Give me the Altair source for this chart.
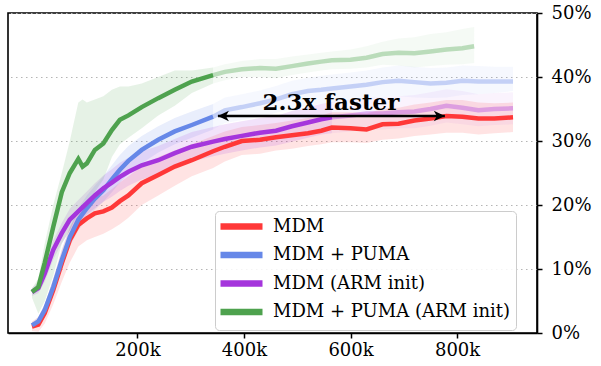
import altair as alt
import pandas as pd

# ---------------- data ----------------
STEPS_K = [2, 14, 26, 42, 58, 73, 89, 105, 120, 136,
           152, 167, 183, 208, 239, 270, 302, 342, 364, 396,
           430, 460, 490, 520, 545, 565, 600, 630, 660, 690,
           720, 750, 780, 810, 840, 870, 905]
GREEN_STEPS_K = [2, 14, 26, 42, 58, 73, 89, 97, 105, 120,
                 136, 152, 167, 183, 208, 239, 270, 302, 342, 364,
                 396, 430, 460, 490, 520, 545, 565, 600, 630, 660,
                 690, 720, 750, 780, 810, 832]

MDM = [1.0, 1.3, 3.1, 6.7, 10.9, 14.5, 16.9, 17.9, 18.7, 19.0,
       19.6, 20.6, 21.5, 23.4, 24.7, 26.0, 27.0, 28.4, 29.1, 30.0,
       30.2, 30.6, 30.9, 31.2, 31.6, 32.1, 32.0, 31.8, 32.6, 32.7,
       33.2, 33.5, 33.9, 33.8, 33.5, 33.5, 33.7]
MDM_LO = [0.3, 0.2, 1.5, 4.5, 8.0, 11.0, 13.5, 14.5, 15.0, 15.5,
          16.2, 17.0, 18.0, 20.0, 21.5, 23.0, 24.5, 25.8, 26.8, 27.8,
          28.0, 28.5, 28.8, 29.2, 29.5, 29.8, 29.8, 29.7, 30.2, 30.4,
          30.8, 31.0, 31.3, 31.3, 31.0, 31.2, 31.4]
MDM_HI = [1.8, 2.5, 4.5, 8.5, 13.0, 16.5, 19.0, 20.0, 21.0, 21.5,
          22.5, 23.5, 24.5, 26.0, 27.5, 28.5, 29.5, 30.8, 31.5, 32.2,
          32.5, 32.8, 33.2, 33.6, 34.0, 34.5, 34.5, 34.3, 35.0, 35.2,
          35.7, 36.0, 36.4, 36.4, 36.0, 35.9, 36.0]

PUMA = [1.2, 1.8, 3.6, 7.2, 11.4, 15.0, 17.7, 19.5, 21.0, 22.3,
        24.0, 25.5, 26.9, 28.6, 30.2, 31.5, 32.5, 33.8, 34.8, 35.3,
        35.9, 36.5, 37.3, 37.8, 38.0, 38.2, 38.5, 38.8, 39.2, 39.4,
        39.2, 39.0, 39.1, 39.4, 39.3, 39.3, 39.3]
PUMA_LO = [0.8, 1.2, 2.8, 6.0, 10.0, 13.5, 16.0, 17.8, 19.2, 20.5,
           22.0, 23.5, 24.8, 26.5, 28.2, 29.5, 30.5, 31.8, 32.8, 33.3,
           33.8, 34.4, 35.0, 35.5, 35.8, 36.0, 36.3, 36.5, 36.8, 37.0,
           36.8, 36.7, 36.8, 37.2, 37.3, 37.5, 37.8]
PUMA_HI = [1.6, 2.5, 4.5, 8.5, 13.0, 16.5, 19.5, 21.5, 23.0, 24.5,
           26.2, 27.8, 29.2, 30.8, 32.3, 33.6, 34.6, 35.8, 36.8, 37.3,
           37.9, 38.6, 39.4, 39.9, 40.2, 40.4, 40.7, 41.0, 41.5, 41.8,
           41.6, 41.4, 41.5, 41.8, 41.7, 41.6, 41.6]

ARM = [6.4, 7.0, 9.3, 13.0, 15.6, 17.7, 19.0, 20.3, 21.5, 22.6,
       23.5, 24.4, 25.2, 26.2, 27.0, 28.1, 29.1, 29.9, 30.3, 30.8,
       31.3, 31.6, 32.3, 32.9, 33.4, 33.7, 34.0, 34.3, 34.3, 34.5,
       34.6, 35.0, 35.5, 35.2, 34.8, 35.0, 35.1]
ARM_LO = [5.8, 6.2, 8.0, 11.5, 14.0, 16.0, 17.2, 18.5, 19.5, 20.5,
          21.3, 22.2, 23.0, 24.0, 24.8, 25.8, 26.8, 27.6, 28.0, 28.5,
          29.0, 29.3, 29.9, 30.5, 31.0, 31.2, 31.5, 31.8, 31.8, 32.0,
          32.0, 32.4, 32.9, 32.6, 32.3, 32.5, 32.6]
ARM_HI = [7.0, 8.0, 10.8, 14.5, 17.2, 19.4, 20.8, 22.1, 23.4, 24.6,
          25.6, 26.6, 27.4, 28.4, 29.2, 30.3, 31.4, 32.2, 32.6, 33.1,
          33.6, 33.9, 34.7, 35.3, 35.8, 36.1, 36.5, 36.8, 36.8, 37.0,
          37.2, 37.6, 38.1, 37.8, 37.3, 37.5, 37.6]

PUMA_ARM = [6.4, 7.2, 11.0, 16.6, 22.0, 25.0, 27.2, 26.0, 26.5, 28.6,
            29.6, 31.7, 33.3, 34.0, 35.3, 36.7, 38.0, 39.3, 40.3, 40.8,
            41.2, 41.4, 41.3, 41.7, 42.1, 42.4, 42.6, 42.7, 43.0, 43.6,
            43.8, 43.7, 44.0, 44.3, 44.5, 44.8]
PUMA_ARM_LO = [5.5, 3.0, 5.0, 9.0, 14.0, 16.0, 19.0, 20.0, 20.0, 22.0,
               24.0, 27.5, 29.5, 30.5, 32.0, 34.0, 35.5, 37.5, 39.0, 39.5,
               40.0, 40.0, 39.8, 40.3, 40.7, 41.0, 41.2, 41.3, 41.5, 41.9,
               41.8, 41.5, 41.7, 41.9, 42.0, 42.2]
PUMA_ARM_HI = [7.0, 8.5, 14.0, 20.0, 25.0, 30.0, 36.0, 36.5, 36.0, 36.5,
               37.0, 38.0, 38.5, 38.5, 39.0, 40.0, 41.0, 41.0, 41.5, 42.0,
               42.5, 42.8, 42.8, 43.2, 43.5, 43.8, 44.0, 44.3, 44.8, 45.5,
               46.0, 46.2, 46.7, 47.0, 47.5, 47.8]

SERIES = ["MDM", "MDM + PUMA", "MDM (ARM init)", "MDM + PUMA (ARM init)"]
COLORS = ["#ff3838", "#6688e8", "#a535dc", "#4ea24e"]
FADE_FROM_K = [None, 342, 565, 342]

X_TICKS_K = [200, 400, 600, 800]
Y_TICKS = [0, 10, 20, 30, 40, 50]

ARROW_K = [351, 777]
ARROW_Y = 33.9
LABEL = "2.3x faster"
LABEL_K = 563
LABEL_Y = 34.85

SERIF = "DejaVu Serif"

# ---------------- build table ----------------
rows = []
for name, steps, mean, lo, hi, fade in [
    (SERIES[0], STEPS_K, MDM, MDM_LO, MDM_HI, FADE_FROM_K[0]),
    (SERIES[1], STEPS_K, PUMA, PUMA_LO, PUMA_HI, FADE_FROM_K[1]),
    (SERIES[2], STEPS_K, ARM, ARM_LO, ARM_HI, FADE_FROM_K[2]),
    (SERIES[3], GREEN_STEPS_K, PUMA_ARM, PUMA_ARM_LO, PUMA_ARM_HI, FADE_FROM_K[3]),
]:
    for s, m, l, h in zip(steps, mean, lo, hi):
        if fade is None or s <= fade:
            rows.append(dict(series=name, step=s, value=m, lo=l, hi=h, seg="solid"))
        if fade is not None and s >= fade:
            rows.append(dict(series=name, step=s, value=m, lo=l, hi=h, seg="faded"))
df = pd.DataFrame(rows)

x_scale = alt.Scale(domain=[-43, 950], nice=False, zero=False)
y_scale = alt.Scale(domain=[0, 50], nice=False, zero=False)
color_scale = alt.Scale(domain=SERIES, range=COLORS)

x_axis = alt.Axis(values=X_TICKS_K, labelExpr="datum.value + 'k'", title=None,
                  grid=False, labelPadding=3, labelFont=SERIF, labelFontSize=18,
                  labelColor="black")
y_axis = alt.Axis(orient="right", values=Y_TICKS, labelExpr="datum.value + '%'",
                  title=None, grid=True, gridDash=[1.5, 3.5], gridColor="#b5b5b5",
                  gridWidth=1.2, labelPadding=9, labelFont=SERIF, labelFontSize=18,
                  labelColor="black")

legend = alt.Legend(
    title=None, orient="none", legendX=207, legendY=198,
    fillColor="rgba(255,255,255,0.85)", strokeColor="#cccccc", cornerRadius=4,
    padding=5, symbolType="M-3,0L3,0", symbolSize=196, symbolStrokeWidth=6.5,
    symbolOpacity=1, labelFont=SERIF, labelFontSize=18,
    labelColor="black", rowPadding=1.5, symbolOffset=11, labelOffset=21,
    labelLimit=400,
)

X = alt.X("step:Q", scale=x_scale, axis=x_axis, title=None)
COLOR = alt.Color("series:N", scale=color_scale, sort=SERIES, legend=legend, title=None)

base = alt.Chart(df)

band_solid = base.transform_filter(alt.datum.seg == "solid").mark_area(opacity=0.14).encode(
    x=X, y=alt.Y("lo:Q", scale=y_scale, axis=y_axis, title=None), y2="hi:Q",
    color=COLOR, detail="series:N",
)
band_faded = base.transform_filter(alt.datum.seg == "faded").mark_area(opacity=0.06).encode(
    x=X, y=alt.Y("lo:Q", scale=y_scale, axis=y_axis, title=None), y2="hi:Q",
    color=COLOR, detail="series:N",
)
line_faded = base.transform_filter(alt.datum.seg == "faded").mark_line(
    strokeWidth=4.5, opacity=0.35).encode(
    x=X, y=alt.Y("value:Q", scale=y_scale, axis=y_axis, title=None),
    color=COLOR, detail="series:N",
)
line_solid = base.transform_filter(alt.datum.seg == "solid").mark_line(
    strokeWidth=4.5).encode(
    x=X, y=alt.Y("value:Q", scale=y_scale, axis=y_axis, title=None),
    color=COLOR, detail="series:N",
)

arrow_df = pd.DataFrame({"x": [ARROW_K[0]], "x2": [ARROW_K[1]], "y": [ARROW_Y]})
arrow_line = alt.Chart(arrow_df).mark_rule(color="black", strokeWidth=2.6).encode(
    x=alt.X("x:Q", scale=x_scale, axis=x_axis, title=None), x2="x2:Q",
    y=alt.Y("y:Q", scale=y_scale, axis=y_axis, title=None),
)
heads_df = pd.DataFrame({"x": ARROW_K, "y": [ARROW_Y, ARROW_Y], "dir": ["left", "right"]})
LEFT_HEAD = "M0,0L2,-0.95L1.45,0L2,0.95Z"
RIGHT_HEAD = "M0,0L-2,-0.95L-1.45,0L-2,0.95Z"
arrow_heads = alt.Chart(heads_df).mark_point(filled=True, opacity=1, color="black",
                                              strokeWidth=0).encode(
    x=alt.X("x:Q", scale=x_scale, axis=x_axis, title=None),
    y=alt.Y("y:Q", scale=y_scale, axis=y_axis, title=None),
    shape=alt.Shape("dir:N", scale=alt.Scale(domain=["left", "right"],
                                             range=[LEFT_HEAD, RIGHT_HEAD]), legend=None),
    size=alt.value(121),
)
label_df = pd.DataFrame({"x": [LABEL_K], "y": [LABEL_Y], "t": [LABEL]})
label = alt.Chart(label_df).mark_text(font=SERIF, fontWeight="bold", fontSize=23,
                                       baseline="alphabetic", align="center",
                                       color="black").encode(
    x=alt.X("x:Q", scale=x_scale, axis=x_axis, title=None),
    y=alt.Y("y:Q", scale=y_scale, axis=y_axis, title=None),
    text="t:N",
)

chart = alt.layer(
    band_solid, band_faded, line_faded, line_solid, arrow_line, arrow_heads, label
).properties(
    width=529, height=320,
    padding={"left": 8, "top": 13, "right": 64, "bottom": 33},
    autosize=alt.AutoSizeParams(type="none"),
    background="white",
).configure_view(
    stroke="black", strokeWidth=1.6
).configure_axis(
    domainColor="black", domainWidth=1.6, tickColor="black", tickWidth=1.5,
    tickSize=5, labelFont=SERIF, labelFontSize=18, labelColor="black",
)

chart.save("out.html", embed_options={"renderer": "svg", "actions": False})
